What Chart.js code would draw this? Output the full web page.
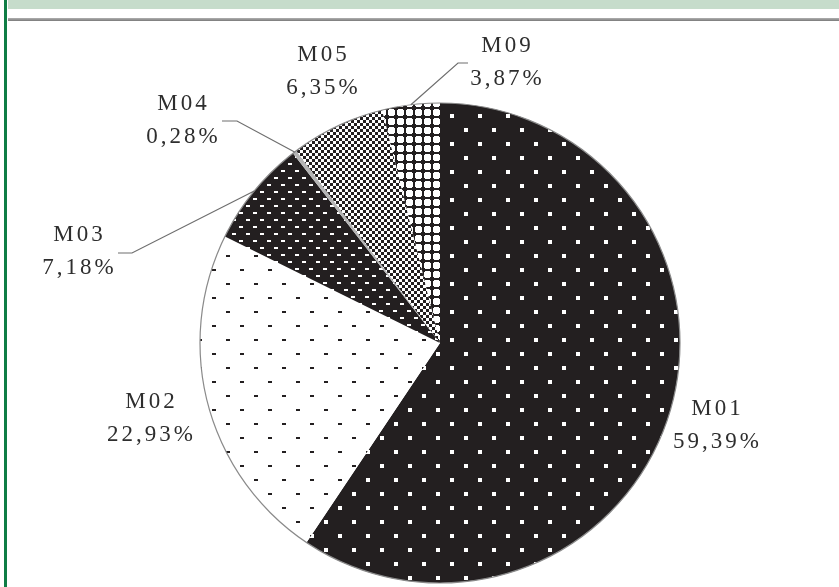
<!DOCTYPE html>
<html>
<head>
<meta charset="utf-8">
<script src="https://cdn.jsdelivr.net/npm/chart.js@4/dist/chart.umd.min.js"></script>
<style>
  html, body { margin: 0; padding: 0; background: #ffffff; width: 839px; height: 587px; overflow: hidden; }
  #wrap { position: relative; width: 839px; height: 587px; }
  #topband { position: absolute; left: 8px; top: 0; width: 831px; height: 9px; background: #c6dccb; }
  #rule { position: absolute; left: 8px; top: 18px; width: 831px; height: 3px; background: linear-gradient(#b0b0b0, #7a7a7a); }
  #greenbar { position: absolute; left: 4px; top: 0; width: 3px; height: 587px; background: #0f7d45; }
  #fontprobe { position: absolute; left: -1000px; top: 0; font: 23px "Liberation Serif"; }
  canvas { position: absolute; left: 0; top: 0; }
</style>
</head>
<body>
<div id="wrap">
  <div id="topband"></div>
  <div id="rule"></div>
  <div id="greenbar"></div>
  <div id="fontprobe">M0123456789,%</div>
  <canvas id="c" width="839" height="587"></canvas>
</div>
<script>
// ---- data ----
const categories = ["M01", "M02", "M03", "M04", "M05", "M09"];
const shares = [59.39, 22.93, 7.18, 0.28, 6.35, 3.87];
const shareLabels = ["59,39%", "22,93%", "7,18%", "0,28%", "6,35%", "3,87%"];

// ---- label layout (offsets from pie centre, px) ----
const labelOffsets = [[276, 72], [-290, 65], [-362, -102], [-258, -233], [-118, -282], [66, -291]];
// leader lines: [elbowX, elbowY, tickEndX, tickEndY] relative to pie centre, or null
const leaders = [null, null, [-308, -90, -322, -90], [-203, -222, -218, -222], null, [18, -280, 28, -280]];

const FONT = '23px "Liberation Serif"';
const SPACING = 3;

function makePattern(size, bg, fg, rects) {
  const t = document.createElement('canvas');
  t.width = size; t.height = size;
  const g = t.getContext('2d');
  g.fillStyle = bg; g.fillRect(0, 0, size, size);
  g.fillStyle = fg;
  rects.forEach(r => g.fillRect(r[0], r[1], r[2], r[3]));
  return document.getElementById('c').getContext('2d').createPattern(t, 'repeat');
}
const DARK = '#231f20';

function spacedText(ctx, text, cx, y) {
  const chars = Array.from(text);
  const widths = chars.map(ch => ctx.measureText(ch).width);
  const total = widths.reduce((a, b) => a + b, 0) + SPACING * (chars.length - 1);
  let x = cx - total / 2;
  chars.forEach((ch, k) => {
    ctx.fillText(ch, x, y);
    x += widths[k] + SPACING;
  });
}

function build() {
  const fills = [
    makePattern(28, DARK, '#ffffff', [[2, 2, 4, 4], [16, 16, 4, 4]]),
    makePattern(28, '#ffffff', DARK, [[2, 3, 4, 2], [16, 17, 4, 2]]),
    makePattern(14, DARK, '#ffffff', [[1, 2, 4, 2], [8, 9, 4, 2]]),
    '#b5b5b5',
    makePattern(6, DARK, '#ffffff', [[0, 0, 3, 3], [3, 3, 3, 3]]),
    makePattern(9, DARK, '#ffffff', [[1, 2, 7, 5], [2, 1, 5, 7]])
  ];

  const decor = {
    id: 'decor',
    afterDatasetsDraw(chart) {
      const ctx = chart.ctx;
      const meta = chart.getDatasetMeta(0);
      const a0 = meta.data[0];
      const cx = a0.x, cy = a0.y, R = a0.outerRadius;
      ctx.save();
      ctx.beginPath();
      ctx.arc(cx, cy, R, 0, Math.PI * 2);
      ctx.strokeStyle = '#8a8a8a';
      ctx.lineWidth = 1.2;
      ctx.stroke();
      ctx.strokeStyle = '#6e6e6e';
      ctx.lineWidth = 1.2;
      meta.data.forEach((arc, i) => {
        const L = leaders[i];
        if (!L) return;
        const mid = (arc.startAngle + arc.endAngle) / 2;
        const ax = cx + Math.cos(mid) * arc.outerRadius;
        const ay = cy + Math.sin(mid) * arc.outerRadius;
        ctx.beginPath();
        ctx.moveTo(ax, ay);
        ctx.lineTo(cx + L[0], cy + L[1]);
        ctx.lineTo(cx + L[2], cy + L[3]);
        ctx.stroke();
      });
      ctx.fillStyle = '#2e2e2e';
      ctx.font = FONT;
      ctx.textAlign = 'left';
      ctx.textBaseline = 'alphabetic';
      categories.forEach((name, i) => {
        const o = labelOffsets[i];
        const x = cx + o[0], y = cy + o[1];
        spacedText(ctx, name, x, y);
        spacedText(ctx, shareLabels[i], x, y + 33);
      });
      ctx.restore();
    }
  };

  new Chart(document.getElementById('c'), {
    type: 'pie',
    data: {
      labels: categories,
      datasets: [{
        data: shares,
        backgroundColor: fills,
        borderWidth: 0,
        hoverOffset: 0
      }]
    },
    options: {
      responsive: false,
      animation: false,
      layout: { padding: { top: 103, bottom: 4, left: 200, right: 159 } },
      plugins: { legend: { display: false }, tooltip: { enabled: false } },
      events: []
    },
    plugins: [decor]
  });
}

if (document.fonts && document.fonts.load) {
  document.fonts.load(FONT).then(build, build);
} else {
  build();
}
</script>
</body>
</html>
